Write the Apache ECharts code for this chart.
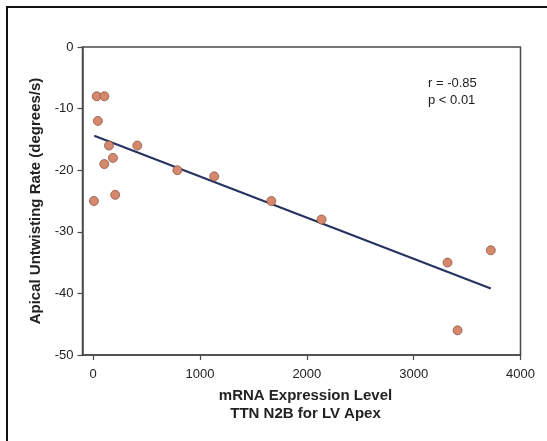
<!DOCTYPE html>
<html>
<head>
<meta charset="utf-8">
<script src="https://cdn.jsdelivr.net/npm/echarts@6/dist/echarts.min.js"></script>
<style>
  html, body { margin: 0; padding: 0; background: #fff; }
  #chart { width: 547px; height: 441px; }
</style>
</head>
<body>
<div id="chart"></div>
<script>
// TTN N2B expression (LV apex) vs apical untwisting rate
const expression = [33, 105, 44, 148, 413, 185, 104, 788, 1133, 7, 206, 1668, 2138, 3317, 3722, 3411];
const untwisting = [-8, -8, -12, -16, -16, -18, -19, -20, -21, -25, -24, -25, -28, -35, -33, -46];

// Fitted regression line, end points
const fitX = [10, 3722];
const fitY = [-14.4, -39.2];

const xTicks = [0, 1000, 2000, 3000, 4000];
const yTicks = [0, -10, -20, -30, -40, -50];

const statLines = ['r = -0.85', 'p < 0.01'];
const xTitle = ['mRNA Expression Level', 'TTN N2B for LV Apex'];
const yTitle = 'Apical Untwisting Rate (degrees/s)';

const points = expression.map((x, i) => [x, untwisting[i]]);
const fitLine = fitX.map((x, i) => [x, fitY[i]]);

const font = 'Liberation Sans, Arial, Helvetica, sans-serif';
const axisColor = '#4a4a4a';

const chart = echarts.init(document.getElementById('chart'), null, { renderer: 'canvas' });
chart.setOption({
  animation: false,
  backgroundColor: '#ffffff',
  textStyle: { fontFamily: font },
  grid: {
    left: 82.5, right: 26.5, top: 47, bottom: 86,
    show: true, borderColor: axisColor, borderWidth: 1.5, backgroundColor: 'transparent'
  },
  xAxis: {
    type: 'value', min: -100, max: 4000,
    splitLine: { show: false },
    axisLine: { show: true, onZero: false, lineStyle: { color: axisColor, width: 1.5 } },
    axisTick: { show: true, length: 5, customValues: xTicks, lineStyle: { color: axisColor, width: 1.2 } },
    axisLabel: {
      customValues: xTicks, margin: 13, fontSize: 13, color: '#222', fontFamily: font,
      formatter: (v) => String(v)
    },
    name: xTitle.join('\n'),
    nameLocation: 'middle',
    nameGap: 32,
    nameTextStyle: { fontSize: 15, fontWeight: 'bold', color: '#222', lineHeight: 18, fontFamily: font, padding: [0, 0, 0, 8] }
  },
  yAxis: {
    type: 'value', min: -50, max: 0, interval: 10,
    splitLine: { show: false },
    axisLine: { show: true, onZero: false, lineStyle: { color: axisColor, width: 1.5 } },
    axisTick: { show: true, length: 5, lineStyle: { color: axisColor, width: 1.2 } },
    axisLabel: {
      customValues: yTicks, margin: 9, fontSize: 13, color: '#222', fontFamily: font,
      formatter: (v) => String(v)
    },
    name: yTitle,
    nameLocation: 'middle',
    nameGap: 37,
    nameTextStyle: { fontSize: 15, fontWeight: 'bold', color: '#222', fontFamily: font }
  },
  series: [
    {
      type: 'line',
      data: fitLine,
      symbol: 'none',
      lineStyle: { color: '#263260', width: 2 },
      z: 2
    },
    {
      type: 'scatter',
      data: points,
      symbol: 'circle',
      symbolSize: 9,
      itemStyle: { color: '#d5886c', borderColor: '#8c5846', borderWidth: 0.8, opacity: 1 },
      z: 3
    }
  ],
  graphic: [
    {
      type: 'text', left: 428, top: 74.5,
      style: { text: statLines.join('\n'), fontSize: 13, lineHeight: 17, fill: '#222', fontFamily: font }
    },
    {
      type: 'line', shape: { x1: 6, y1: 7, x2: 547, y2: 7 },
      style: { stroke: '#111', lineWidth: 2 }
    },
    {
      type: 'line', shape: { x1: 7, y1: 6, x2: 7, y2: 441 },
      style: { stroke: '#111', lineWidth: 2 }
    }
  ]
});
</script>
</body>
</html>
